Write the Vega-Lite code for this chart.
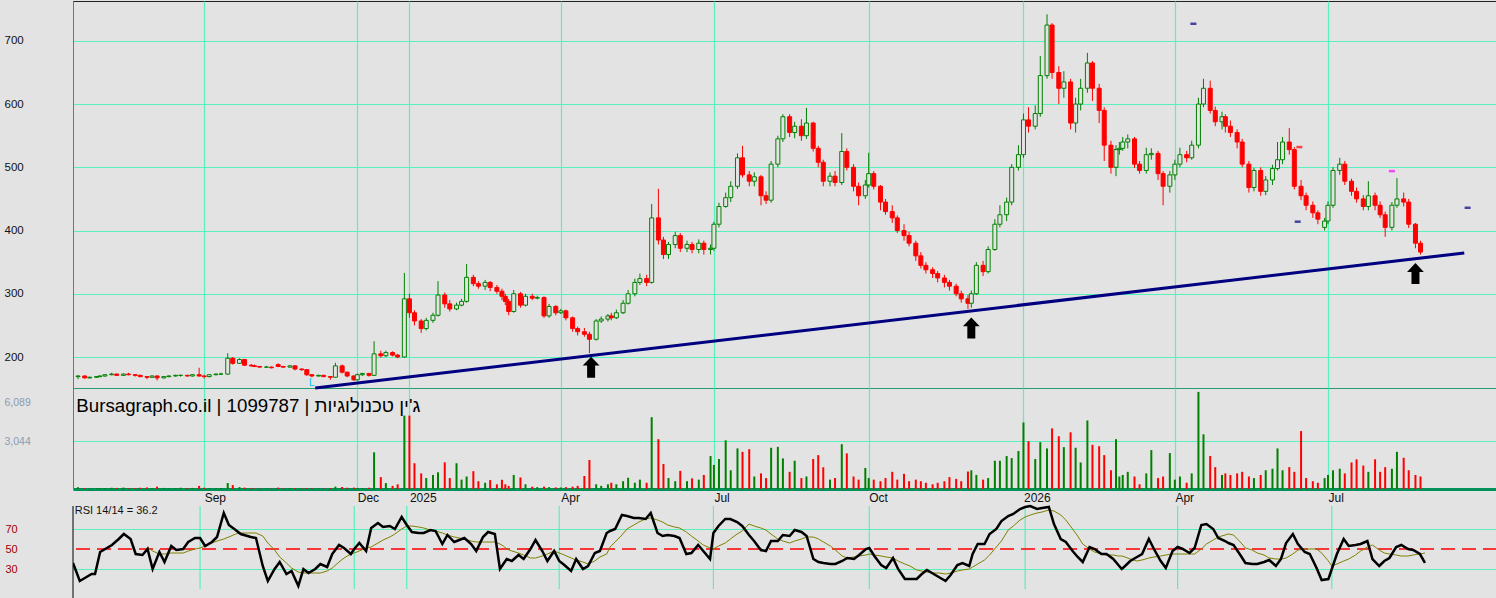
{
"$schema":"https://vega.github.io/schema/vega-lite/v6.json",
"background":"#e3e3e3",
"padding":{"left":3,"top":0,"right":0,"bottom":0},
"spacing":0,
"bounds":"flush",
"config":{"view":{"stroke":null},"font":"Liberation Sans","axis":{"gridColor":"#58f0bc","gridOpacity":1,"gridWidth":1.2,"ticks":false,"tickSize":0,"labelFont":"Liberation Sans","title":null},"concat":{"spacing":0}},
"datasets":{
"tl":[{"d":"2024-11-06","p":151},{"d":"2026-09-20","p":364.6}],
"ar":[{"d":"2025-04-19","p":184},{"d":"2025-12-01","p":246},{"d":"2026-08-22","p":332}],
"mk":[{"d":"2026-04-12","p":727,"k":"a"},{"d":"2026-09-22","p":436,"k":"a"},{"d":"2026-06-13","p":414,"k":"a"},{"d":"2026-06-14","p":532,"k":"b"},{"d":"2026-08-08","p":494,"k":"c"}],
"tk":[{"d":"2024-09-01"},{"d":"2024-12-01"},{"d":"2025-01-01"},{"d":"2025-04-01"},{"d":"2025-07-01"},{"d":"2025-10-01"},{"d":"2026-01-01"},{"d":"2026-04-01"},{"d":"2026-07-01"}],
"p":[
{"d":"2024-06-18","o":169,"h":171,"l":165,"c":170,"v":120,"r":36},
{"d":"2024-06-22","o":170,"h":171,"l":166,"c":167,"v":60,"r":18},
{"d":"2024-06-25","o":167,"h":169,"l":166,"c":168,"v":40,"r":21},
{"d":"2024-06-29","o":168,"h":170,"l":167,"c":169,"v":40,"r":25},
{"d":"2024-07-01","o":169,"h":171,"l":168,"c":170,"v":50,"r":25},
{"d":"2024-07-04","o":170,"h":173,"l":169,"c":172,"v":60,"r":47},
{"d":"2024-07-08","o":172,"h":175,"l":171,"c":173,"v":80,"r":51},
{"d":"2024-07-11","o":173,"h":174,"l":170,"c":171,"v":70,"r":54},
{"d":"2024-07-15","o":171,"h":174,"l":170,"c":173,"v":90,"r":60},
{"d":"2024-07-18","o":173,"h":175,"l":171,"c":172,"v":50,"r":65},
{"d":"2024-07-22","o":172,"h":173,"l":169,"c":171,"v":60,"r":60},
{"d":"2024-07-25","o":171,"h":172,"l":168,"c":169,"v":80,"r":45},
{"d":"2024-07-29","o":169,"h":170,"l":165,"c":168,"v":100,"r":44},
{"d":"2024-08-01","o":168,"h":171,"l":167,"c":170,"v":60,"r":50,"s":52},
{"d":"2024-08-04","o":170,"h":171,"l":163,"c":167,"v":150,"r":30,"s":48},
{"d":"2024-08-08","o":167,"h":170,"l":166,"c":169,"v":70,"r":47,"s":45},
{"d":"2024-08-11","o":169,"h":171,"l":168,"c":170,"v":50,"r":37,"s":45},
{"d":"2024-08-15","o":170,"h":172,"l":169,"c":171,"v":60,"r":53,"s":46},
{"d":"2024-08-18","o":171,"h":172,"l":169,"c":171,"v":80,"r":49,"s":46},
{"d":"2024-08-22","o":171,"h":172,"l":169,"c":170,"v":60,"r":50,"s":46},
{"d":"2024-08-25","o":170,"h":173,"l":169,"c":172,"v":70,"r":57,"s":48},
{"d":"2024-08-29","o":172,"h":183,"l":169,"c":170,"v":200,"r":61,"s":50},
{"d":"2024-09-01","o":170,"h":172,"l":166,"c":169,"v":80,"r":61,"s":51},
{"d":"2024-09-04","o":169,"h":173,"l":168,"c":172,"v":60,"r":53,"s":53},
{"d":"2024-09-08","o":172,"h":174,"l":171,"c":173,"v":50,"r":57,"s":56},
{"d":"2024-09-11","o":173,"h":175,"l":172,"c":173,"v":60,"r":62,"s":58},
{"d":"2024-09-15","o":173,"h":206,"l":172,"c":198,"v":380,"r":86,"s":60},
{"d":"2024-09-18","o":198,"h":200,"l":188,"c":190,"v":250,"r":74,"s":62},
{"d":"2024-09-22","o":190,"h":198,"l":189,"c":196,"v":120,"r":69,"s":65},
{"d":"2024-09-25","o":196,"h":197,"l":186,"c":187,"v":90,"r":65,"s":66},
{"d":"2024-09-29","o":187,"h":189,"l":185,"c":186,"v":60,"r":63,"s":66},
{"d":"2024-10-01","o":186,"h":188,"l":184,"c":185,"v":40,"r":62,"s":66},
{"d":"2024-10-04","o":185,"h":186,"l":183,"c":184,"v":30,"r":61,"s":66},
{"d":"2024-10-08","o":184,"h":186,"l":183,"c":184,"v":40,"r":33,"s":63},
{"d":"2024-10-11","o":184,"h":185,"l":182,"c":183,"v":40,"r":18,"s":56},
{"d":"2024-10-15","o":188,"h":190,"l":184,"c":185,"v":90,"r":30,"s":49},
{"d":"2024-10-18","o":185,"h":186,"l":183,"c":184,"v":40,"r":37,"s":42},
{"d":"2024-10-22","o":184,"h":187,"l":183,"c":186,"v":50,"r":25,"s":36},
{"d":"2024-10-25","o":186,"h":187,"l":179,"c":181,"v":60,"r":28,"s":31},
{"d":"2024-10-29","o":181,"h":182,"l":178,"c":180,"v":40,"r":13,"s":27},
{"d":"2024-11-01","o":180,"h":181,"l":170,"c":172,"v":60,"r":30,"s":26},
{"d":"2024-11-04","o":172,"h":173,"l":168,"c":170,"v":50,"r":26,"s":26},
{"d":"2024-11-08","o":170,"h":172,"l":169,"c":171,"v":30,"r":30,"s":26},
{"d":"2024-11-11","o":171,"h":172,"l":168,"c":169,"v":40,"r":35,"s":26},
{"d":"2024-11-15","o":169,"h":170,"l":164,"c":168,"v":60,"r":32,"s":28},
{"d":"2024-11-18","o":168,"h":191,"l":167,"c":186,"v":150,"r":45,"s":31},
{"d":"2024-11-22","o":186,"h":188,"l":174,"c":176,"v":130,"r":54,"s":37},
{"d":"2024-11-25","o":176,"h":177,"l":168,"c":170,"v":80,"r":51,"s":41},
{"d":"2024-11-29","o":170,"h":171,"l":162,"c":164,"v":90,"r":45,"s":45},
{"d":"2024-12-01","o":164,"h":174,"l":163,"c":172,"v":70,"r":50,"s":46},
{"d":"2024-12-04","o":172,"h":175,"l":170,"c":174,"v":60,"r":56,"s":48},
{"d":"2024-12-08","o":174,"h":175,"l":169,"c":171,"v":80,"r":48,"s":51},
{"d":"2024-12-11","o":171,"h":225,"l":170,"c":205,"v":2350,"r":71,"s":52},
{"d":"2024-12-15","o":205,"h":210,"l":199,"c":202,"v":760,"r":76,"s":56},
{"d":"2024-12-18","o":202,"h":210,"l":200,"c":207,"v":380,"r":72,"s":59},
{"d":"2024-12-22","o":207,"h":209,"l":201,"c":203,"v":200,"r":73,"s":62},
{"d":"2024-12-25","o":203,"h":205,"l":198,"c":200,"v":300,"r":70,"s":65},
{"d":"2024-12-29","o":200,"h":333,"l":199,"c":292,"v":4700,"r":82,"s":70},
{"d":"2025-01-01","o":292,"h":300,"l":262,"c":270,"v":4700,"r":74,"s":73},
{"d":"2025-01-04","o":270,"h":274,"l":250,"c":257,"v":1650,"r":67,"s":73},
{"d":"2025-01-08","o":257,"h":260,"l":238,"c":245,"v":1000,"r":66,"s":72},
{"d":"2025-01-11","o":245,"h":262,"l":242,"c":258,"v":700,"r":66,"s":71},
{"d":"2025-01-15","o":258,"h":270,"l":254,"c":266,"v":900,"r":69,"s":69},
{"d":"2025-01-18","o":266,"h":320,"l":264,"c":298,"v":1070,"r":68,"s":68},
{"d":"2025-01-22","o":298,"h":302,"l":278,"c":284,"v":1710,"r":55,"s":66},
{"d":"2025-01-25","o":284,"h":290,"l":272,"c":276,"v":700,"r":64,"s":64},
{"d":"2025-01-29","o":276,"h":286,"l":274,"c":282,"v":1650,"r":57,"s":62},
{"d":"2025-02-01","o":282,"h":292,"l":280,"c":288,"v":600,"r":59,"s":61},
{"d":"2025-02-04","o":288,"h":347,"l":286,"c":326,"v":800,"r":61,"s":60},
{"d":"2025-02-08","o":326,"h":330,"l":312,"c":316,"v":1140,"r":55,"s":58},
{"d":"2025-02-11","o":316,"h":320,"l":308,"c":312,"v":500,"r":48,"s":57},
{"d":"2025-02-15","o":312,"h":322,"l":306,"c":318,"v":400,"r":62,"s":57},
{"d":"2025-02-18","o":318,"h":320,"l":304,"c":310,"v":570,"r":67,"s":57},
{"d":"2025-02-22","o":310,"h":314,"l":300,"c":304,"v":300,"r":65,"s":57},
{"d":"2025-02-25","o":304,"h":308,"l":290,"c":296,"v":590,"r":30,"s":55},
{"d":"2025-02-27","o":296,"h":300,"l":282,"c":288,"v":300,"r":35,"s":53},
{"d":"2025-03-01","o":288,"h":292,"l":266,"c":272,"v":200,"r":40,"s":50},
{"d":"2025-03-04","o":272,"h":306,"l":270,"c":300,"v":900,"r":38,"s":48},
{"d":"2025-03-08","o":300,"h":303,"l":278,"c":282,"v":740,"r":44,"s":46},
{"d":"2025-03-11","o":282,"h":300,"l":280,"c":296,"v":300,"r":40,"s":44},
{"d":"2025-03-15","o":296,"h":300,"l":290,"c":293,"v":150,"r":50,"s":41},
{"d":"2025-03-18","o":293,"h":297,"l":291,"c":294,"v":120,"r":59,"s":41},
{"d":"2025-03-22","o":294,"h":296,"l":262,"c":265,"v":150,"r":48,"s":43},
{"d":"2025-03-25","o":265,"h":284,"l":262,"c":280,"v":120,"r":38,"s":45},
{"d":"2025-03-29","o":280,"h":282,"l":266,"c":270,"v":100,"r":48,"s":48},
{"d":"2025-04-01","o":270,"h":276,"l":268,"c":273,"v":100,"r":38,"s":46},
{"d":"2025-04-04","o":273,"h":275,"l":258,"c":262,"v":120,"r":34,"s":44},
{"d":"2025-04-08","o":262,"h":264,"l":240,"c":245,"v":150,"r":28,"s":41},
{"d":"2025-04-11","o":245,"h":248,"l":234,"c":240,"v":200,"r":40,"s":39},
{"d":"2025-04-15","o":240,"h":246,"l":232,"c":236,"v":840,"r":30,"s":37},
{"d":"2025-04-18","o":236,"h":240,"l":206,"c":228,"v":1860,"r":33,"s":35},
{"d":"2025-04-22","o":228,"h":260,"l":226,"c":257,"v":300,"r":46,"s":38},
{"d":"2025-04-25","o":257,"h":264,"l":254,"c":260,"v":200,"r":48,"s":42},
{"d":"2025-04-29","o":260,"h":268,"l":256,"c":265,"v":300,"r":66,"s":45},
{"d":"2025-05-01","o":265,"h":270,"l":258,"c":262,"v":400,"r":68,"s":52},
{"d":"2025-05-04","o":262,"h":275,"l":260,"c":270,"v":300,"r":70,"s":57},
{"d":"2025-05-08","o":270,"h":290,"l":268,"c":285,"v":500,"r":84,"s":64},
{"d":"2025-05-11","o":285,"h":306,"l":283,"c":300,"v":720,"r":83,"s":70},
{"d":"2025-05-15","o":300,"h":324,"l":296,"c":318,"v":400,"r":81,"s":74},
{"d":"2025-05-18","o":318,"h":332,"l":314,"c":324,"v":600,"r":81,"s":77},
{"d":"2025-05-22","o":324,"h":330,"l":312,"c":318,"v":400,"r":80,"s":80},
{"d":"2025-05-25","o":318,"h":442,"l":316,"c":420,"v":4600,"r":86,"s":81},
{"d":"2025-05-29","o":420,"h":466,"l":378,"c":385,"v":3190,"r":66,"s":79},
{"d":"2025-06-01","o":385,"h":390,"l":355,"c":362,"v":1600,"r":63,"s":77},
{"d":"2025-06-04","o":362,"h":382,"l":355,"c":378,"v":700,"r":64,"s":74},
{"d":"2025-06-08","o":378,"h":398,"l":372,"c":392,"v":500,"r":63,"s":72},
{"d":"2025-06-11","o":392,"h":396,"l":366,"c":372,"v":1160,"r":61,"s":71},
{"d":"2025-06-15","o":372,"h":384,"l":366,"c":378,"v":500,"r":45,"s":67},
{"d":"2025-06-18","o":378,"h":382,"l":364,"c":370,"v":680,"r":46,"s":63},
{"d":"2025-06-22","o":370,"h":386,"l":364,"c":380,"v":600,"r":54,"s":58},
{"d":"2025-06-25","o":380,"h":384,"l":362,"c":370,"v":900,"r":48,"s":54},
{"d":"2025-06-29","o":370,"h":378,"l":362,"c":372,"v":2110,"r":40,"s":51},
{"d":"2025-07-01","o":372,"h":414,"l":368,"c":410,"v":1540,"r":66,"s":50},
{"d":"2025-07-04","o":410,"h":444,"l":405,"c":438,"v":1920,"r":73,"s":53},
{"d":"2025-07-08","o":438,"h":460,"l":436,"c":452,"v":3120,"r":80,"s":56},
{"d":"2025-07-11","o":452,"h":478,"l":445,"c":470,"v":1200,"r":80,"s":60},
{"d":"2025-07-15","o":470,"h":522,"l":466,"c":515,"v":2600,"r":77,"s":65},
{"d":"2025-07-18","o":515,"h":534,"l":484,"c":488,"v":2380,"r":73,"s":68},
{"d":"2025-07-22","o":488,"h":494,"l":470,"c":478,"v":2550,"r":64,"s":75},
{"d":"2025-07-25","o":478,"h":492,"l":470,"c":485,"v":800,"r":58,"s":73},
{"d":"2025-07-29","o":485,"h":488,"l":440,"c":455,"v":1000,"r":49,"s":71},
{"d":"2025-08-01","o":455,"h":462,"l":442,"c":448,"v":700,"r":48,"s":69},
{"d":"2025-08-04","o":448,"h":510,"l":444,"c":505,"v":2640,"r":58,"s":65},
{"d":"2025-08-08","o":505,"h":550,"l":500,"c":545,"v":2700,"r":58,"s":60},
{"d":"2025-08-11","o":545,"h":584,"l":540,"c":580,"v":1960,"r":64,"s":58},
{"d":"2025-08-15","o":580,"h":584,"l":548,"c":555,"v":1100,"r":63,"s":56},
{"d":"2025-08-18","o":555,"h":572,"l":546,"c":565,"v":1810,"r":69,"s":58},
{"d":"2025-08-22","o":565,"h":576,"l":542,"c":550,"v":700,"r":67,"s":60},
{"d":"2025-08-25","o":550,"h":594,"l":545,"c":570,"v":800,"r":63,"s":62},
{"d":"2025-08-29","o":570,"h":572,"l":525,"c":530,"v":1920,"r":40,"s":62},
{"d":"2025-09-01","o":530,"h":534,"l":500,"c":508,"v":2170,"r":37,"s":60},
{"d":"2025-09-04","o":508,"h":512,"l":470,"c":478,"v":1390,"r":36,"s":57},
{"d":"2025-09-08","o":478,"h":492,"l":470,"c":486,"v":600,"r":35,"s":53},
{"d":"2025-09-11","o":486,"h":494,"l":470,"c":476,"v":700,"r":35,"s":49},
{"d":"2025-09-15","o":476,"h":554,"l":472,"c":525,"v":2870,"r":38,"s":43},
{"d":"2025-09-18","o":525,"h":530,"l":495,"c":500,"v":2280,"r":41,"s":41},
{"d":"2025-09-22","o":500,"h":505,"l":462,"c":470,"v":800,"r":40,"s":42},
{"d":"2025-09-25","o":470,"h":476,"l":440,"c":455,"v":600,"r":44,"s":43},
{"d":"2025-09-29","o":455,"h":480,"l":450,"c":472,"v":1350,"r":50,"s":44},
{"d":"2025-10-01","o":472,"h":523,"l":468,"c":490,"v":700,"r":51,"s":45},
{"d":"2025-10-04","o":490,"h":494,"l":465,"c":470,"v":600,"r":43,"s":44},
{"d":"2025-10-08","o":470,"h":472,"l":432,"c":445,"v":500,"r":34,"s":43},
{"d":"2025-10-11","o":445,"h":450,"l":425,"c":430,"v":700,"r":31,"s":42},
{"d":"2025-10-15","o":430,"h":440,"l":412,"c":420,"v":1100,"r":41,"s":41},
{"d":"2025-10-18","o":420,"h":424,"l":396,"c":400,"v":600,"r":30,"s":38},
{"d":"2025-10-22","o":400,"h":410,"l":384,"c":392,"v":970,"r":20,"s":35},
{"d":"2025-10-25","o":392,"h":398,"l":375,"c":380,"v":500,"r":20,"s":33},
{"d":"2025-10-29","o":380,"h":384,"l":352,"c":360,"v":600,"r":20,"s":29},
{"d":"2025-11-01","o":360,"h":366,"l":340,"c":345,"v":500,"r":25,"s":28},
{"d":"2025-11-04","o":345,"h":350,"l":332,"c":338,"v":400,"r":29,"s":27},
{"d":"2025-11-08","o":338,"h":342,"l":325,"c":332,"v":300,"r":25,"s":26},
{"d":"2025-11-11","o":332,"h":336,"l":318,"c":325,"v":400,"r":22,"s":26},
{"d":"2025-11-15","o":325,"h":330,"l":310,"c":318,"v":500,"r":18,"s":25},
{"d":"2025-11-18","o":318,"h":322,"l":305,"c":312,"v":760,"r":24,"s":26},
{"d":"2025-11-22","o":312,"h":316,"l":296,"c":300,"v":650,"r":34,"s":28},
{"d":"2025-11-25","o":300,"h":305,"l":286,"c":292,"v":500,"r":36,"s":29},
{"d":"2025-11-29","o":292,"h":298,"l":276,"c":285,"v":1120,"r":33,"s":30},
{"d":"2025-12-01","o":285,"h":305,"l":278,"c":300,"v":1200,"r":45,"s":32},
{"d":"2025-12-04","o":300,"h":350,"l":298,"c":345,"v":900,"r":55,"s":35},
{"d":"2025-12-08","o":345,"h":352,"l":328,"c":335,"v":600,"r":55,"s":39},
{"d":"2025-12-11","o":335,"h":375,"l":332,"c":370,"v":700,"r":65,"s":44},
{"d":"2025-12-15","o":370,"h":418,"l":368,"c":410,"v":1810,"r":70,"s":52},
{"d":"2025-12-18","o":410,"h":440,"l":405,"c":425,"v":1810,"r":78,"s":58},
{"d":"2025-12-22","o":425,"h":452,"l":415,"c":445,"v":2110,"r":83,"s":69},
{"d":"2025-12-25","o":445,"h":505,"l":440,"c":500,"v":1980,"r":85,"s":73},
{"d":"2025-12-29","o":500,"h":535,"l":495,"c":520,"v":2430,"r":90,"s":79},
{"d":"2026-01-01","o":520,"h":585,"l":515,"c":575,"v":4260,"r":92,"s":82},
{"d":"2026-01-04","o":575,"h":595,"l":555,"c":565,"v":3060,"r":93,"s":84},
{"d":"2026-01-08","o":565,"h":598,"l":560,"c":585,"v":1920,"r":90,"s":86},
{"d":"2026-01-11","o":585,"h":676,"l":580,"c":645,"v":3000,"r":91,"s":87},
{"d":"2026-01-15","o":645,"h":742,"l":640,"c":725,"v":2600,"r":92,"s":89},
{"d":"2026-01-18","o":725,"h":728,"l":640,"c":650,"v":3880,"r":75,"s":88},
{"d":"2026-01-22","o":650,"h":660,"l":600,"c":625,"v":3380,"r":60,"s":84},
{"d":"2026-01-25","o":625,"h":652,"l":610,"c":635,"v":2680,"r":57,"s":79},
{"d":"2026-01-29","o":635,"h":640,"l":560,"c":570,"v":3630,"r":48,"s":70},
{"d":"2026-02-01","o":570,"h":610,"l":555,"c":600,"v":2640,"r":42,"s":63},
{"d":"2026-02-04","o":600,"h":640,"l":590,"c":625,"v":1700,"r":37,"s":55},
{"d":"2026-02-08","o":625,"h":681,"l":618,"c":665,"v":4390,"r":52,"s":50},
{"d":"2026-02-11","o":665,"h":668,"l":605,"c":625,"v":2830,"r":50,"s":47},
{"d":"2026-02-15","o":625,"h":632,"l":570,"c":590,"v":2740,"r":45,"s":45},
{"d":"2026-02-18","o":590,"h":595,"l":510,"c":535,"v":2170,"r":45,"s":44},
{"d":"2026-02-22","o":535,"h":542,"l":490,"c":500,"v":1200,"r":40,"s":44},
{"d":"2026-02-25","o":500,"h":535,"l":486,"c":528,"v":3190,"r":34,"s":43},
{"d":"2026-02-27","o":528,"h":540,"l":520,"c":530,"v":800,"r":30,"s":43},
{"d":"2026-03-01","o":530,"h":548,"l":526,"c":540,"v":900,"r":33,"s":42},
{"d":"2026-03-04","o":540,"h":552,"l":530,"c":545,"v":1100,"r":38,"s":40},
{"d":"2026-03-08","o":545,"h":548,"l":499,"c":505,"v":800,"r":42,"s":38},
{"d":"2026-03-11","o":505,"h":510,"l":490,"c":495,"v":300,"r":45,"s":39},
{"d":"2026-03-15","o":495,"h":531,"l":490,"c":520,"v":1000,"r":60,"s":41},
{"d":"2026-03-18","o":520,"h":530,"l":512,"c":522,"v":2490,"r":50,"s":42},
{"d":"2026-03-22","o":522,"h":526,"l":480,"c":490,"v":700,"r":38,"s":43},
{"d":"2026-03-25","o":490,"h":494,"l":440,"c":470,"v":800,"r":31,"s":44},
{"d":"2026-03-29","o":470,"h":494,"l":460,"c":488,"v":2300,"r":48,"s":45},
{"d":"2026-04-01","o":488,"h":512,"l":480,"c":505,"v":600,"r":52,"s":45},
{"d":"2026-04-04","o":505,"h":531,"l":500,"c":520,"v":800,"r":50,"s":45},
{"d":"2026-04-08","o":520,"h":526,"l":508,"c":515,"v":400,"r":46,"s":45},
{"d":"2026-04-11","o":515,"h":542,"l":512,"c":535,"v":1000,"r":51,"s":45},
{"d":"2026-04-15","o":535,"h":610,"l":530,"c":600,"v":6220,"r":74,"s":50},
{"d":"2026-04-18","o":600,"h":640,"l":595,"c":625,"v":3500,"r":75,"s":55},
{"d":"2026-04-22","o":625,"h":637,"l":585,"c":590,"v":2110,"r":70,"s":59},
{"d":"2026-04-25","o":590,"h":596,"l":565,"c":572,"v":1400,"r":61,"s":62},
{"d":"2026-04-29","o":572,"h":588,"l":560,"c":580,"v":900,"r":58,"s":64},
{"d":"2026-05-01","o":580,"h":584,"l":555,"c":565,"v":1000,"r":56,"s":65},
{"d":"2026-05-04","o":565,"h":574,"l":548,"c":555,"v":900,"r":54,"s":64},
{"d":"2026-05-08","o":555,"h":560,"l":530,"c":540,"v":1000,"r":44,"s":57},
{"d":"2026-05-11","o":540,"h":545,"l":500,"c":505,"v":1100,"r":36,"s":51},
{"d":"2026-05-15","o":505,"h":510,"l":460,"c":468,"v":800,"r":35,"s":49},
{"d":"2026-05-18","o":468,"h":499,"l":462,"c":495,"v":700,"r":35,"s":46},
{"d":"2026-05-22","o":495,"h":500,"l":455,"c":462,"v":900,"r":37,"s":44},
{"d":"2026-05-25","o":462,"h":486,"l":456,"c":480,"v":1200,"r":39,"s":41},
{"d":"2026-05-29","o":480,"h":504,"l":472,"c":498,"v":1300,"r":33,"s":40},
{"d":"2026-06-01","o":498,"h":540,"l":495,"c":512,"v":2600,"r":40,"s":40},
{"d":"2026-06-04","o":512,"h":548,"l":505,"c":540,"v":1200,"r":56,"s":41},
{"d":"2026-06-08","o":540,"h":562,"l":520,"c":528,"v":1400,"r":65,"s":45},
{"d":"2026-06-11","o":528,"h":532,"l":465,"c":470,"v":1100,"r":55,"s":49},
{"d":"2026-06-15","o":470,"h":480,"l":448,"c":455,"v":3710,"r":47,"s":50},
{"d":"2026-06-18","o":455,"h":460,"l":432,"c":440,"v":700,"r":45,"s":50},
{"d":"2026-06-22","o":440,"h":446,"l":420,"c":428,"v":500,"r":31,"s":50},
{"d":"2026-06-25","o":428,"h":432,"l":410,"c":418,"v":400,"r":19,"s":46},
{"d":"2026-06-29","o":405,"h":420,"l":400,"c":415,"v":700,"r":20,"s":38},
{"d":"2026-07-01","o":415,"h":446,"l":410,"c":440,"v":900,"r":30,"s":33},
{"d":"2026-07-04","o":440,"h":500,"l":436,"c":495,"v":1200,"r":45,"s":35},
{"d":"2026-07-08","o":495,"h":515,"l":488,"c":505,"v":1300,"r":60,"s":38},
{"d":"2026-07-11","o":505,"h":510,"l":472,"c":478,"v":1000,"r":53,"s":40},
{"d":"2026-07-15","o":478,"h":482,"l":455,"c":462,"v":1700,"r":54,"s":44},
{"d":"2026-07-18","o":462,"h":468,"l":444,"c":450,"v":1900,"r":55,"s":48},
{"d":"2026-07-22","o":450,"h":456,"l":432,"c":438,"v":1500,"r":58,"s":52},
{"d":"2026-07-25","o":438,"h":478,"l":432,"c":455,"v":1100,"r":40,"s":54},
{"d":"2026-07-29","o":455,"h":460,"l":432,"c":440,"v":1900,"r":33,"s":49},
{"d":"2026-08-01","o":440,"h":446,"l":420,"c":425,"v":1100,"r":38,"s":46},
{"d":"2026-08-04","o":425,"h":430,"l":390,"c":405,"v":1400,"r":41,"s":45},
{"d":"2026-08-08","o":405,"h":445,"l":400,"c":440,"v":1300,"r":52,"s":44},
{"d":"2026-08-11","o":440,"h":483,"l":436,"c":450,"v":2380,"r":54,"s":43},
{"d":"2026-08-15","o":450,"h":460,"l":438,"c":445,"v":2000,"r":50,"s":43},
{"d":"2026-08-18","o":445,"h":450,"l":404,"c":410,"v":1200,"r":49,"s":44},
{"d":"2026-08-22","o":410,"h":412,"l":372,"c":380,"v":900,"r":45,"s":45},
{"d":"2026-08-25","o":380,"h":384,"l":362,"c":366,"v":800,"r":36.2,"s":46}
]},
"vconcat":[
{
"width":1424,"height":387,
"view":{"stroke":"#222222","strokeWidth":1},
"layer":[
{"data":{"name":"p"},"mark":{"type":"rule","strokeWidth":1},
"encoding":{
"x":{"field":"d","type":"temporal","title":null,
"scale":{"type":"time","nice":false,"domain":[{"year":2024,"month":6,"date":18,"utc":true},{"year":2026,"month":10,"date":6,"hours":12,"utc":true}]},
"axis":{"title":null,"values":[{"year":2024,"month":9,"date":1,"utc":true},{"year":2024,"month":12,"date":1,"utc":true},{"year":2025,"month":1,"date":1,"utc":true},{"year":2025,"month":4,"date":1,"utc":true},{"year":2025,"month":7,"date":1,"utc":true},{"year":2025,"month":10,"date":1,"utc":true},{"year":2026,"month":1,"date":1,"utc":true},{"year":2026,"month":4,"date":1,"utc":true},{"year":2026,"month":7,"date":1,"utc":true}],"grid":true,"labels":false,"ticks":false,"domain":true,"domainColor":"#2a9a70","domainWidth":1}},
"y":{"field":"l","type":"quantitative","title":null,"scale":{"domain":[151,763],"nice":false,"zero":false},
"axis":{"title":null,"values":[200,250,300,350,400,450,500,550,600,650,700],"grid":true,"labelAlign":"left","labelPadding":69,"labelFontSize":11.5,"labelColor":"#111111","domainColor":"#2a9a70"}},
"y2":{"field":"h"},
"color":{"condition":{"test":"datum.c >= datum.o","value":"#008000"},"value":"#ff0000"}}},
{"data":{"name":"p"},"mark":{"type":"bar","size":4,"strokeWidth":1},
"encoding":{"x":{"field":"d","type":"temporal"},"y":{"field":"o","type":"quantitative"},"y2":{"field":"c"},
"fill":{"condition":{"test":"datum.c >= datum.o","value":"#e3e3e3"},"value":"#ff0000"},
"stroke":{"condition":{"test":"datum.c >= datum.o","value":"#008000"},"value":"#ff0000"}}},
{"data":{"name":"tl"},"mark":{"type":"line","color":"#000080","strokeWidth":3},
"encoding":{"x":{"field":"d","type":"temporal"},"y":{"field":"p","type":"quantitative"}}},
{"data":{"name":"ar"},"mark":{"type":"point","shape":"M0,-1L0.8,-0.15L0.38,-0.15L0.38,1L-0.38,1L-0.38,-0.15L-0.8,-0.15Z","size":441,"filled":true,"color":"#000000","opacity":1},
"encoding":{"x":{"field":"d","type":"temporal"},"y":{"field":"p","type":"quantitative"}}},
{"data":{"name":"mk"},"mark":{"type":"tick","orient":"horizontal","size":6,"thickness":2.5},
"encoding":{"x":{"field":"d","type":"temporal"},"y":{"field":"p","type":"quantitative"},"color":{"field":"k","type":"nominal","legend":null,"scale":{"domain":["a","b","c"],"range":["#000080","#ff0000","#ff00ff"]}}}},
{"data":{"values":[{"d":"2024-11-04","p":151,"t":"L"}]},"mark":{"type":"text","color":"#00bfff","fontSize":10,"baseline":"bottom","align":"center"},
"encoding":{"x":{"field":"d","type":"temporal"},"y":{"field":"p","type":"quantitative"},"text":{"field":"t"}}}
]
},
{
"width":1424,"height":101,
"layer":[
{"data":{"name":"p"},"mark":{"type":"bar","size":2},
"encoding":{
"x":{"field":"d","type":"temporal","title":null,
"scale":{"type":"time","nice":false,"domain":[{"year":2024,"month":6,"date":18,"utc":true},{"year":2026,"month":10,"date":6,"hours":12,"utc":true}]},
"axis":{"title":null,"values":[{"year":2024,"month":9,"date":1,"utc":true},{"year":2024,"month":12,"date":1,"utc":true},{"year":2025,"month":1,"date":1,"utc":true},{"year":2025,"month":4,"date":1,"utc":true},{"year":2025,"month":7,"date":1,"utc":true},{"year":2025,"month":10,"date":1,"utc":true},{"year":2026,"month":1,"date":1,"utc":true},{"year":2026,"month":4,"date":1,"utc":true},{"year":2026,"month":7,"date":1,"utc":true}],"grid":true,"labelExpr":"utcmonth(datum.value) == 0 ? utcFormat(datum.value, '%Y') : utcFormat(datum.value, '%b')","labelAlign":"left","labelBaseline":"top","labelPadding":3,"labelFontSize":12,"labelColor":"#111111","labelFlush":false,"labelOverlap":false,"ticks":false,"domain":true,"domainColor":"#00905a","domainWidth":3}},
"y":{"field":"v","type":"quantitative","title":null,"scale":{"domain":[0,6468],"nice":false},
"axis":{"title":null,"values":[3044,6089],"labelExpr":"format(datum.value, ',')","grid":true,"gridOpacity":{"condition":{"test":"datum.value > 5000","value":0},"value":1},"labelAlign":"left","labelPadding":69,"labelFontSize":10.5,"labelColor":"#8c9bb0","labelOffset":{"condition":{"test":"datum.value > 5000","value":9},"value":0},"domainColor":"#2a9a70"}},
"color":{"condition":{"test":"datum.c >= datum.o","value":"#008000"},"value":"#ff0000"}}},
{"data":{"values":[{}]},"mark":{"type":"text","align":"left","baseline":"middle","fontSize":18.7,"font":"Liberation Sans","color":"#000000"},
"encoding":{"x":{"datum":{"year":2024,"month":6,"date":17,"utc":true},"type":"temporal"},"y":{"datum":5330,"type":"quantitative"},"text":{"value":"Bursagraph.co.il | 1099787 | ג'ין טכנולוגיות"}}}
]
},
{
"width":1424,"height":110,
"layer":[
{"data":{"name":"tk"},"mark":{"type":"rule","color":"#58f0bc","strokeWidth":1.2},
"encoding":{
"x":{"field":"d","type":"temporal","title":null,
"scale":{"type":"time","nice":false,"domain":[{"year":2024,"month":6,"date":18,"utc":true},{"year":2026,"month":10,"date":6,"hours":12,"utc":true}]},
"axis":null},
"y":{"datum":10,"type":"quantitative","title":null,"scale":{"domain":[0,110],"nice":false,"zero":false},
"axis":{"title":null,"values":[30,50,70],"grid":true,"gridOpacity":{"condition":{"test":"datum.value == 50","value":0},"value":1},"labelAlign":"left","labelPadding":68,"labelFontSize":11,"labelColor":"#a00000","domain":false}},
"y2":{"datum":93}}},
{"data":{"values":[{}]},"mark":{"type":"rule","color":"#000000","strokeWidth":1},
"encoding":{"x":{"datum":{"year":2024,"month":6,"date":18,"utc":true},"type":"temporal"},"y":{"datum":0,"type":"quantitative"},"y2":{"datum":93}}},
{"data":{"values":[{}]},"mark":{"type":"rule","color":"#ff0000","strokeDash":[14,7],"strokeWidth":1.5},
"encoding":{"y":{"datum":50,"type":"quantitative"}}},
{"data":{"name":"p"},"mark":{"type":"line","color":"#808000","strokeWidth":1},
"encoding":{"x":{"field":"d","type":"temporal"},"y":{"field":"s","type":"quantitative"}}},
{"data":{"name":"p"},"mark":{"type":"line","color":"#000000","strokeWidth":2.5,"clip":true},
"encoding":{"x":{"field":"d","type":"temporal"},"y":{"field":"r","type":"quantitative"}}},
{"data":{"values":[{}]},"mark":{"type":"text","align":"left","baseline":"middle","fontSize":11,"color":"#111111"},
"encoding":{"x":{"datum":{"year":2024,"month":6,"date":19,"utc":true},"type":"temporal"},"y":{"datum":88,"type":"quantitative"},"text":{"value":"RSI 14/14 = 36.2"}}}
]
}
]
}
